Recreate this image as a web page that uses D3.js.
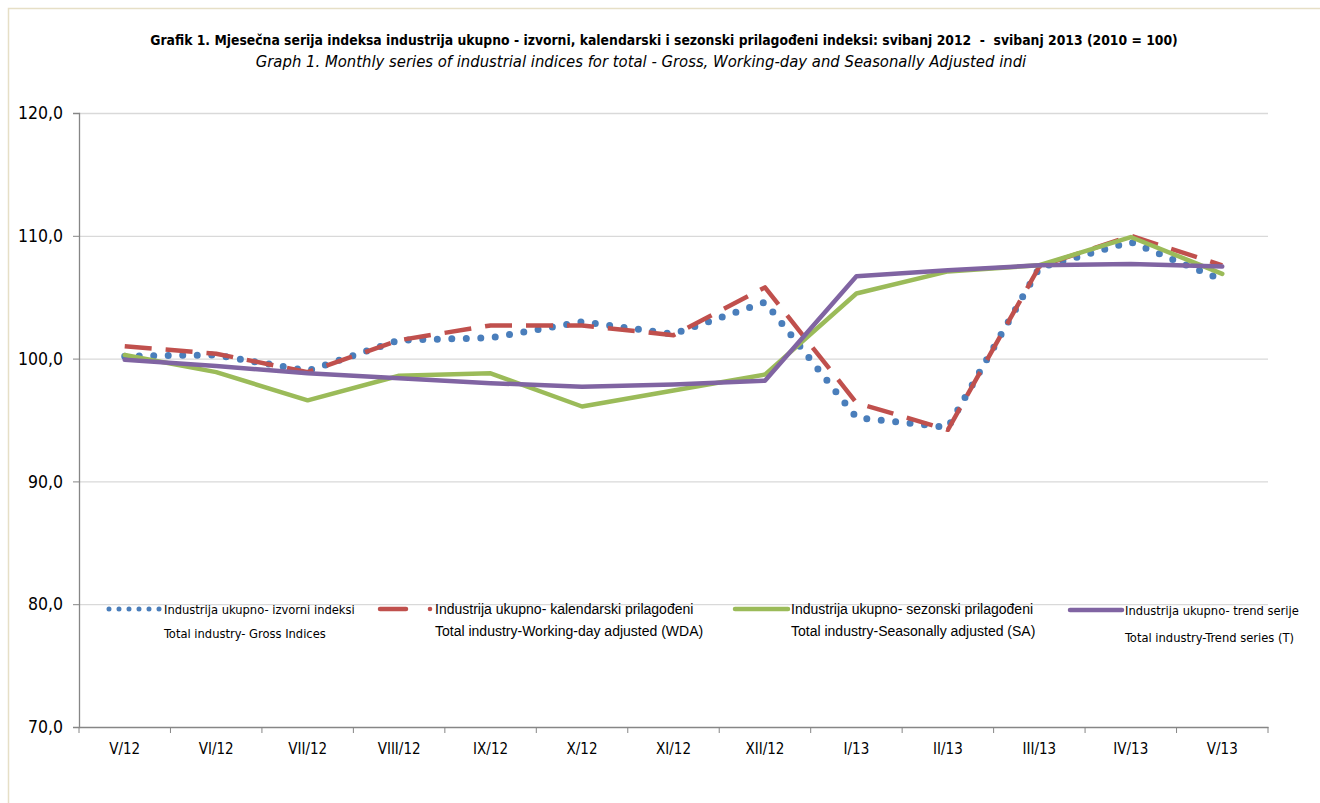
<!DOCTYPE html>
<html>
<head>
<meta charset="utf-8">
<script src="https://cdn.jsdelivr.net/npm/d3@7"></script>
<style>
  body { margin: 0; background: #fff; }
  svg { display: block; }
  .narrow { font-family: "Liberation Sans Narrow", "DejaVu Sans Condensed", sans-serif; }
  .arial { font-family: "Liberation Sans", Arial, sans-serif; }
</style>
</head>
<body>
<svg id="chart" width="1320" height="803"></svg>
<script>
// months on the x axis
var months = [ "V/12", "VI/12", "VII/12", "VIII/12", "IX/12", "X/12", "XI/12", "XII/12", "I/13", "II/13", "III/13", "IV/13", "V/13" ];

// series values
var grossValues = [ 100.2, 100.3, 99.0, 101.5, 101.7, 103.0, 102.0, 104.6, 95.2, 94.4, 107.4, 109.5, 106.4 ];
var wdaValues = [ 101.0, 100.4, 98.9, 101.5, 102.7, 102.7, 101.9, 105.8, 96.4, 94.2, 107.5, 110.0, 107.6 ];
var saValues = [ 100.3, 98.9, 96.6, 98.6, 98.8, 96.1, 97.4, 98.7, 105.3, 107.1, 107.6, 109.9, 106.9 ];
var trendValues = [ 99.9, 99.4, 98.8, 98.4, 98.0, 97.7, 97.9, 98.2, 106.7, 107.2, 107.6, 107.7, 107.5 ];

var yTicks = [ 70, 80, 90, 100, 110, 120 ];

var titleHr = "Grafik 1. Mjesečna serija indeksa industrija ukupno - izvorni, kalendarski i sezonski prilagođeni indeksi: svibanj 2012  -  svibanj 2013 (2010 = 100)";
var titleEn = "Graph 1. Monthly series of industrial indices for total - Gross, Working-day and Seasonally Adjusted indi";

var svg = d3.select( "#chart" );

// light frame round the chart area
svg.append( "rect" )
    .attr( "x", 8.5 ).attr( "y", 8.5 )
    .attr( "width", 1340 ).attr( "height", 820 )
    .attr( "fill", "none" )
    .attr( "stroke", "#e6dfc6" )
    .attr( "stroke-width", 1.5 );

// titles
svg.append( "text" )
    .attr( "class", "narrow" )
    .attr( "x", 664 ).attr( "y", 45 )
    .attr( "text-anchor", "middle" )
    .attr( "font-size", 13.8 )
    .attr( "font-weight", "bold" )
    .attr( "fill", "#000" )
    .attr( "xml:space", "preserve" )
    .text( titleHr );

svg.append( "text" )
    .attr( "class", "narrow" )
    .attr( "x", 641 ).attr( "y", 67 )
    .attr( "text-anchor", "middle" )
    .attr( "font-size", 16.5 )
    .attr( "font-style", "italic" )
    .attr( "fill", "#000" )
    .text( titleEn );

var plotLeft = 79, plotRight = 1268, plotTop = 113, plotBottom = 727;

var x = d3.scaleBand()
    .domain( months )
    .range( [ plotLeft, plotRight ] );

var y = d3.scaleLinear()
    .domain( [ 70, 120 ] )
    .range( [ plotBottom, plotTop ] );

// horizontal grid
svg.append( "g" )
    .selectAll( "line" )
    .data( yTicks.slice( 1 ) )
    .enter()
    .append( "line" )
    .attr( "x1", plotLeft ).attr( "x2", plotRight )
    .attr( "y1", function ( d ) { return y( d ) + 0.5; } )
    .attr( "y2", function ( d ) { return y( d ) + 0.5; } )
    .attr( "stroke", "#d9d9d9" )
    .attr( "stroke-width", 1.3 );

// y axis
var yAxis = svg.append( "g" )
    .attr( "transform", "translate(" + plotLeft + ",0)" )
    .call( d3.axisLeft( y ).tickValues( yTicks ).tickSize( 6 ).tickPadding( 10 )
        .tickFormat( function ( d ) { return d3.format( ".1f" )( d ).replace( ".", "," ); } ) );
yAxis.selectAll( "text" )
    .attr( "class", "narrow" )
    .attr( "font-size", 17.5 )
    .attr( "fill", "#000" );

// x axis, ticks on band edges
var xAxis = svg.append( "g" )
    .attr( "transform", "translate(0," + plotBottom + ")" )
    .call( d3.axisBottom( x ).tickSize( 0 ).tickPadding( 16 ) );
xAxis.selectAll( "text" )
    .attr( "class", "narrow" )
    .attr( "font-size", 15 )
    .attr( "fill", "#000" );
xAxis.selectAll( ".tick line" ).remove();
xAxis.selectAll( ".edge" )
    .data( months.map( function ( m ) { return x( m ); } ).concat( [ plotRight ] ) )
    .enter()
    .append( "line" )
    .attr( "x1", function ( d ) { return d; } )
    .attr( "x2", function ( d ) { return d; } )
    .attr( "y1", 0 ).attr( "y2", 6 )
    .attr( "stroke", "#868686" );

svg.selectAll( ".domain" ).attr( "stroke", "#868686" ).attr( "stroke-width", 1.3 );
yAxis.selectAll( ".tick line" ).attr( "stroke", "#868686" );

// series
var series = [
    { name: "gross", values: grossValues, color: "#4a7ebb", width: 7, dash: "0,14.5", cap: "round" },
    { name: "wda", values: wdaValues, color: "#c0504d", width: 4.5, dash: "27,14", cap: "butt" },
    { name: "sa", values: saValues, color: "#9bbb59", width: 4.5, dash: null, cap: "round" },
    { name: "trend", values: trendValues, color: "#8064a2", width: 4.5, dash: null, cap: "round" }
];

var line = d3.line()
    .x( function ( d, i ) { return x( months[ i ] ) + x.bandwidth() / 2; } )
    .y( function ( d ) { return y( d ); } );

series.forEach( function ( s ) {
    svg.append( "path" )
        .datum( s.values )
        .attr( "d", line )
        .attr( "fill", "none" )
        .attr( "stroke", s.color )
        .attr( "stroke-width", s.width )
        .attr( "stroke-linecap", s.cap )
        .attr( "stroke-linejoin", "round" )
        .attr( "stroke-dasharray", s.dash );
} );

// legend
var legendItems = [
    { s: series[ 0 ], x1: 109, x2: 160, tx: 164, y1: 612, y2: 634, f: "narrow", size: 12.8, dash: "0,10", w: 5 },
    { s: series[ 1 ], x1: 380, x2: 406, tx: 435, y1: 612, y2: 632, f: "arial", size: 14, dash: null, w: 4.5 },
    { s: series[ 2 ], x1: 735, x2: 788, tx: 791, y1: 612, y2: 632, f: "arial", size: 14, dash: null, w: 4.5 },
    { s: series[ 3 ], x1: 1070, x2: 1122, tx: 1125, y1: 613, y2: 638, f: "narrow", size: 12.8, dash: null, w: 4.5 }
];
var legendText = [
    [ "Industrija ukupno- izvorni indeksi", "Total industry- Gross Indices" ],
    [ "Industrija ukupno- kalendarski prilagođeni", "Total industry-Working-day adjusted (WDA)" ],
    [ "Industrija ukupno- sezonski prilagođeni", "Total industry-Seasonally adjusted (SA)" ],
    [ "Industrija ukupno- trend serije", "Total industry-Trend series (T)" ]
];

legendItems.forEach( function ( item, i ) {
    svg.append( "line" )
        .attr( "x1", item.x1 ).attr( "x2", item.x2 )
        .attr( "y1", item.y1 - 3 ).attr( "y2", item.y1 - 3 )
        .attr( "stroke", item.s.color )
        .attr( "stroke-width", item.w )
        .attr( "stroke-linecap", "round" )
        .attr( "stroke-dasharray", item.dash );
    if ( item.s.name === "wda" ) {
        svg.append( "circle" )
            .attr( "cx", 430 ).attr( "cy", item.y1 - 3 ).attr( "r", 2.3 )
            .attr( "fill", item.s.color );
    }
    var g = svg.append( "text" )
        .attr( "class", item.f )
        .attr( "font-size", item.size )
        .attr( "fill", "#000" );
    g.append( "tspan" ).attr( "x", item.tx ).attr( "y", item.y1 + 2 ).text( legendText[ i ][ 0 ] );
    g.append( "tspan" ).attr( "x", item.tx ).attr( "y", item.y2 + 4 ).text( legendText[ i ][ 1 ] );
} );
</script>
</body>
</html>
